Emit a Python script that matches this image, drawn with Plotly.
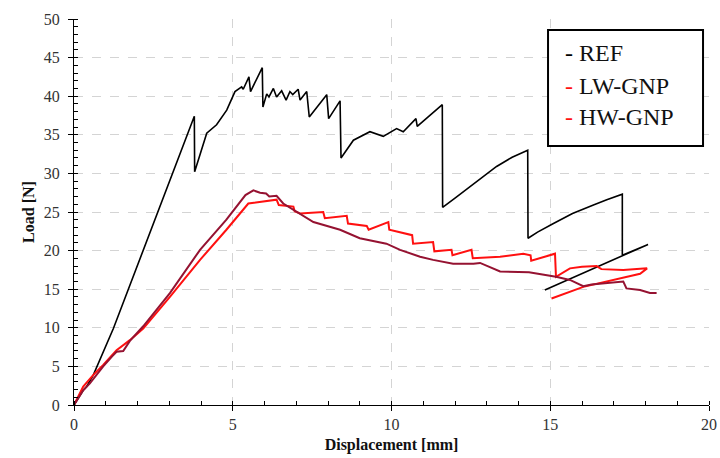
import plotly.graph_objects as go

# ---------------- data ----------------
ref_x = [0, 0.29, 0.40, 0.61, 1.24, 2.18, 3.00, 3.50, 3.79, 3.80, 4.00, 4.18, 4.49, 4.81, 5.07, 5.28,
         5.33, 5.51, 5.56, 5.93, 5.95, 6.07, 6.14, 6.28, 6.38, 6.54, 6.68, 6.80, 6.89, 7.06,
         7.12, 7.33, 7.41, 7.96, 8.02, 8.38, 8.41, 8.80, 9.32, 9.74, 10.16, 10.37, 10.77,
         10.81, 11.60, 11.61, 12.00, 12.47, 12.90, 13.31, 13.80, 14.29, 14.30, 14.60, 15.10,
         15.70, 16.36, 16.78, 17.27, 17.27, 18.08, 14.83]
ref_y = [0, 1.9, 2.4, 3.9, 9.9, 20.1, 28.9, 34.2, 37.4, 30.2, 32.9, 35.2, 36.3, 38.2, 40.6, 41.2,
         40.9, 42.5, 40.6, 43.7, 38.6, 40.3, 39.9, 41.0, 39.9, 40.7, 39.5, 40.6, 40.2, 40.9,
         39.5, 40.6, 37.3, 40.2, 37.1, 39.4, 32.0, 34.3, 35.4, 34.8, 35.8, 35.4, 37.1,
         36.1, 38.9, 25.6, 26.8, 28.3, 29.6, 30.9, 32.1, 33.0, 21.6, 22.4, 23.5,
         24.8, 25.9, 26.6, 27.3, 19.4, 20.8, 14.9]

lw_x = [0, 0.29, 0.61, 0.92, 1.34, 1.76, 2.18, 3.02, 3.97, 4.80, 5.49, 6.00, 6.38, 6.45,
        6.91, 6.95, 7.12, 7.85, 7.90, 8.59, 8.63, 9.22, 9.28, 9.90, 9.93, 10.65, 10.68,
        11.31, 11.35, 11.89, 11.92, 12.52, 12.56, 13.42, 14.15, 14.38, 14.40, 15.15, 15.18,
        15.62, 16.00, 16.46, 16.61, 17.30, 17.80, 18.05, 17.83, 16.99, 16.04, 15.04]
lw_y = [0, 2.4, 3.9, 5.2, 7.1, 8.4, 9.9, 14.0, 18.8, 22.7, 26.1, 26.4, 26.6, 25.9,
        25.7, 25.1, 24.8, 25.0, 24.2, 24.5, 23.5, 23.2, 22.7, 23.7, 22.7, 22.0, 20.9,
        21.1, 19.9, 20.1, 19.4, 20.1, 19.0, 19.2, 19.6, 19.4, 18.7, 19.6, 16.6,
        17.7, 17.9, 18.0, 17.6, 17.5, 17.6, 17.7, 17.0, 16.2, 15.3, 13.8]

hw_x = [0, 0.29, 0.50, 0.92, 1.20, 1.34, 1.55, 1.76, 2.18, 3.02, 3.97, 4.80, 5.40, 5.65,
        5.86, 6.05, 6.15, 6.38, 6.59, 7.12, 7.54, 8.38, 9.00, 9.84, 10.27, 10.90, 11.31,
        11.94, 12.58, 12.79, 13.42, 14.33, 14.99, 15.18, 15.62, 16.04, 16.30, 16.77, 17.30,
        17.40, 17.83, 18.14, 18.35]
hw_y = [0, 1.9, 2.8, 5.0, 6.3, 6.9, 7.0, 8.3, 10.2, 14.5, 20.1, 24.0, 27.2, 27.8,
        27.5, 27.4, 27.0, 27.1, 26.1, 24.8, 23.7, 22.7, 21.6, 20.9, 20.1, 19.2, 18.8,
        18.3, 18.3, 18.4, 17.3, 17.2, 16.8, 16.6, 16.2, 15.4, 15.6, 15.8, 16.0,
        15.1, 14.9, 14.5, 14.5]

series_names = ["REF", "LW-GNP", "HW-GNP"]
x_ticks = [0, 5, 10, 15, 20]
y_ticks = [0, 5, 10, 15, 20, 25, 30, 35, 40, 45, 50]

SERIF = "Liberation Serif, Times New Roman, serif"

fig = go.Figure()
fig.add_trace(go.Scatter(x=ref_x, y=ref_y, mode="lines", name=series_names[0],
                         line=dict(color="#000000", width=1.6)))
fig.add_trace(go.Scatter(x=lw_x, y=lw_y, mode="lines", name=series_names[1],
                         line=dict(color="#ff1010", width=2)))
fig.add_trace(go.Scatter(x=hw_x, y=hw_y, mode="lines", name=series_names[2],
                         line=dict(color="#951231", width=2)))

axis_common = dict(
    showline=True, linecolor="black", linewidth=1.3,
    ticks="outside", ticklen=5, tickwidth=1.2, tickcolor="black",
    showgrid=True, gridcolor="#d4d4d4", griddash="dash", gridwidth=1,
    zeroline=False, mirror=False, automargin=False,
    tickfont=dict(family=SERIF, size=16, color="#333"),
)

fig.update_xaxes(range=[0, 20], tickvals=x_ticks,
                 minor=dict(dtick=1, ticks="inside", ticklen=4, tickcolor="black", showgrid=False),
                 title=dict(text="<b>Displacement [mm]</b>", font=dict(family=SERIF, size=16, color="#111"),
                            standoff=6),
                 **axis_common)
fig.update_yaxes(range=[0, 50], tickvals=y_ticks, ticklabelstandoff=5,
                 minor=dict(dtick=1, ticks="inside", ticklen=4, tickcolor="black", showgrid=False),
                 title=dict(text="<b>Load [N]</b>", font=dict(family=SERIF, size=16, color="#111"),
                            standoff=5),
                 **axis_common)

# legend drawn as box + text
fig.add_shape(type="rect", xref="paper", yref="paper", x0=0.7465, x1=0.9906, y0=0.671, y1=0.9715,
              line=dict(color="black", width=2), fillcolor="white", layer="above")
legend_colors = ["#000000", "#ff1010", "#ff1010"]
legend_y = [0.9127, 0.8272, 0.7469]
for name, c, yy in zip(series_names, legend_colors, legend_y):
    fig.add_annotation(xref="paper", yref="paper", x=0.770, y=yy, xanchor="left", yanchor="middle",
                       showarrow=False,
                       text=f"<span style='color:{c}'>-</span> {name}",
                       font=dict(family=SERIF, size=24, color="#111"))

fig.update_layout(
    width=720, height=458,
    margin=dict(l=74, r=11, t=19, b=53),
    plot_bgcolor="white", paper_bgcolor="white",
    showlegend=False,
)

fig.write_html("out.html")
